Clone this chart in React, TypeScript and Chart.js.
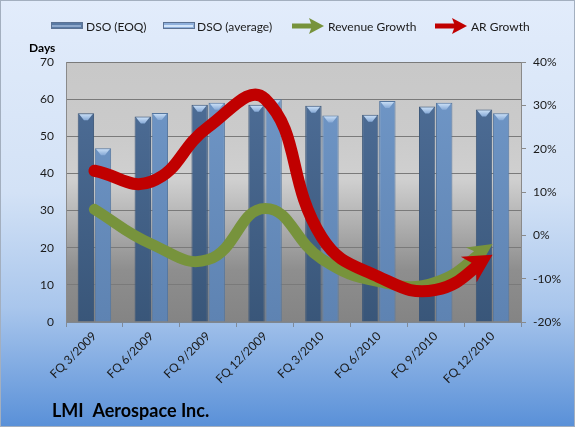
import { useEffect, useRef } from 'react';
import { Chart, registerables } from 'chart.js';

Chart.register(...registerables);

const categories = ['FQ 3/2009', 'FQ 6/2009', 'FQ 9/2009', 'FQ 12/2009', 'FQ 3/2010', 'FQ 6/2010', 'FQ 9/2010', 'FQ 12/2010'];
const dsoEoq = [56.2, 55.3, 58.5, 58.5, 58.2, 55.8, 58.0, 57.2];
const dsoAvg = [46.8, 56.3, 59.0, 60.0, 55.6, 59.5, 59.0, 56.2];
const revenueGrowth = [6.0, -2.0, -5.6, 6.2, -5.5, -10.7, -10.8, -2.0];
const arGrowth = [14.9, 12.4, 25.0, 31.5, -0.5, -9.6, -12.6, -4.5];
const leftTicks = [0, 10, 20, 30, 40, 50, 60, 70];
const rightTicks = [-20, -10, 0, 10, 20, 30, 40];

const FONT = 'Lato, "Open Sans", sans-serif';
const GREEN = '#77933c';
const RED = '#c00000';

function arrowGeom(meta: any) {
  const pts = meta.data;
  const p = pts[pts.length - 1];
  let dx = p.x - (p.cp1x ?? pts[pts.length - 2].x);
  let dy = p.y - (p.cp1y ?? pts[pts.length - 2].y);
  const len = Math.hypot(dx, dy) || 1;
  dx /= len;
  dy /= len;
  return { x: p.x, y: p.y, dx, dy };
}

function barGradient(top: string, bottom: string) {
  return (c: any) => {
    const ca = c.chart.chartArea;
    if (!ca) return top;
    const g = c.chart.ctx.createLinearGradient(0, ca.top, 0, ca.bottom);
    g.addColorStop(0, top);
    g.addColorStop(1, bottom);
    return g;
  };
}

const decorPlugin = {
  id: 'decor',
  beforeDraw(chart: any) {
    const { ctx, chartArea: ca, width, height } = chart;
    ctx.save();
    const g = ctx.createLinearGradient(0, 0, 0, height);
    g.addColorStop(0, '#e2ecfb');
    g.addColorStop(0.45, '#d3e2f6');
    g.addColorStop(0.72, '#a9c6ec');
    g.addColorStop(1, '#5990d8');
    ctx.fillStyle = g;
    ctx.fillRect(0, 0, width, height);
    const pg = ctx.createLinearGradient(0, ca.top, 0, ca.bottom);
    pg.addColorStop(0, '#c8c8c8');
    pg.addColorStop(0.3, '#cbcbcb');
    pg.addColorStop(0.45, '#d0d0d0');
    pg.addColorStop(0.62, '#b0b0b0');
    pg.addColorStop(0.8, '#8e8e8e');
    pg.addColorStop(1, '#848484');
    ctx.fillStyle = pg;
    ctx.fillRect(ca.left, ca.top, ca.right - ca.left, ca.bottom - ca.top);
    ctx.strokeStyle = '#a3afbf';
    ctx.lineWidth = 1;
    ctx.strokeRect(0.5, 0.5, width - 1, height - 1);
    ctx.restore();
  },
  beforeDatasetDraw(chart: any, args: any) {
    const meta = args.meta;
    if (meta.type !== 'line') return;
    const a = arrowGeom(meta);
    const back = 16;
    const bx = a.x - a.dx * back;
    const by = a.y - a.dy * back;
    const px = -a.dy, py = a.dx;
    const ctx = chart.ctx;
    ctx.save();
    ctx.beginPath();
    ctx.rect(0, 0, chart.width, chart.height);
    ctx.moveTo(bx + px * 30, by + py * 30);
    ctx.lineTo(bx + px * 30 + a.dx * 60, by + py * 30 + a.dy * 60);
    ctx.lineTo(bx - px * 30 + a.dx * 60, by - py * 30 + a.dy * 60);
    ctx.lineTo(bx - px * 30, by - py * 30);
    ctx.closePath();
    ctx.clip('evenodd');
  },
  afterDatasetDraw(chart: any, args: any) {
    const meta = args.meta;
    const ctx = chart.ctx;
    if (meta.type === 'line') {
      ctx.restore();
      const a = arrowGeom(meta);
      const ds = chart.data.datasets[args.index];
      const headLen = ds.label === 'AR Growth' ? 28 : 24;
      const headW = ds.label === 'AR Growth' ? 15 : 12;
      const bx = a.x - a.dx * headLen;
      const by = a.y - a.dy * headLen;
      const px = -a.dy, py = a.dx;
      ctx.save();
      ctx.fillStyle = ds.borderColor;
      ctx.beginPath();
      ctx.moveTo(a.x, a.y);
      ctx.lineTo(bx + px * headW, by + py * headW);
      ctx.lineTo(a.x - a.dx * headLen * 0.7, a.y - a.dy * headLen * 0.7);
      ctx.lineTo(bx - px * headW, by - py * headW);
      ctx.closePath();
      ctx.fill();
      ctx.restore();
    } else if (meta.type === 'bar') {
      ctx.save();
      for (const el of meta.data) {
        const w = el.width;
        const x0 = el.x - w / 2 + 1.5;
        const x1 = el.x + w / 2 - 1.5;
        const y = el.y + 1;
        const cg = ctx.createLinearGradient(0, y, 0, y + 6);
        cg.addColorStop(0, '#c7ddf5');
        cg.addColorStop(1, '#86a9d6');
        ctx.fillStyle = cg;
        ctx.beginPath();
        ctx.moveTo(x0, y);
        ctx.lineTo(x1, y);
        ctx.lineTo(el.x + w * 0.12, y + 6);
        ctx.lineTo(el.x - w * 0.12, y + 6);
        ctx.closePath();
        ctx.fill();
      }
      ctx.restore();
    }
  },
  afterDraw(chart: any) {
    const ctx = chart.ctx;
    ctx.save();
    const ly = 26;
    const swatch = (x: number, color: string, hi: string) => {
      ctx.fillStyle = color;
      ctx.fillRect(x, ly - 3, 31, 6);
      ctx.fillStyle = hi;
      ctx.fillRect(x + 1, ly - 1, 29, 2);
      ctx.strokeStyle = '#5d7394';
      ctx.lineWidth = 1;
      ctx.strokeRect(x + 0.5, ly - 3.5, 31, 6);
    };
    const arrow = (x: number, color: string) => {
      ctx.fillStyle = color;
      ctx.fillRect(x, ly - 2.5, 20, 5);
      ctx.beginPath();
      ctx.moveTo(x + 32, ly);
      ctx.lineTo(x + 17, ly - 8);
      ctx.lineTo(x + 20, ly);
      ctx.lineTo(x + 17, ly + 8);
      ctx.closePath();
      ctx.fill();
    };
    ctx.font = `12px ${FONT}`;
    ctx.textBaseline = 'middle';
    ctx.textAlign = 'left';
    swatch(51, '#5a7aa4', '#8fa9cc');
    ctx.fillStyle = '#1a1a1a';
    ctx.fillText('DSO (EOQ)', 86, ly + 1);
    swatch(163, '#8fb0dc', '#d4e6fa');
    ctx.fillStyle = '#1a1a1a';
    ctx.fillText('DSO (average)', 197, ly + 1);
    arrow(292, GREEN);
    ctx.fillStyle = '#1a1a1a';
    ctx.fillText('Revenue Growth', 328, ly + 1);
    arrow(435, RED);
    ctx.fillStyle = '#1a1a1a';
    ctx.fillText('AR Growth', 471, ly + 1);
    ctx.font = `bold 12px ${FONT}`;
    ctx.fillStyle = '#000';
    ctx.fillText('Days', 29, 48);
    ctx.font = `bold 18px ${FONT}`;
    ctx.fillText('LMI  Aerospace Inc.', 52, 411);
    ctx.restore();
  },
};

export default function App() {
  const ref = useRef<HTMLCanvasElement>(null);
  useEffect(() => {
    document.body.style.margin = '0';
    const chart = new Chart(ref.current as HTMLCanvasElement, {
      type: 'bar',
      data: {
        labels: categories,
        datasets: [
          {
            type: 'line',
            label: 'AR Growth',
            data: arGrowth,
            yAxisID: 'y1',
            borderColor: RED,
            backgroundColor: RED,
            borderWidth: 12,
            tension: 0.45,
            pointRadius: 0,
            fill: false,
            order: 0,
            borderCapStyle: 'round',
            borderJoinStyle: 'round',
          } as any,
          {
            type: 'line',
            label: 'Revenue Growth',
            data: revenueGrowth,
            yAxisID: 'y1',
            borderColor: GREEN,
            backgroundColor: GREEN,
            borderWidth: 11,
            tension: 0.45,
            pointRadius: 0,
            fill: false,
            order: 1,
            borderCapStyle: 'round',
            borderJoinStyle: 'round',
          } as any,
          {
            type: 'bar',
            label: 'DSO (EOQ)',
            data: dsoEoq,
            yAxisID: 'y',
            backgroundColor: barGradient('#50709a', '#395679'),
            borderColor: '#3b5678',
            borderWidth: 1,
            categoryPercentage: 0.6,
            barPercentage: 0.96,
            order: 2,
          },
          {
            type: 'bar',
            label: 'DSO (average)',
            data: dsoAvg,
            yAxisID: 'y',
            backgroundColor: barGradient('#7198c8', '#5e83b2'),
            borderColor: '#56779f',
            borderWidth: 1,
            categoryPercentage: 0.6,
            barPercentage: 0.96,
            order: 3,
          },
        ],
      },
      options: {
        responsive: false,
        animation: false,
        devicePixelRatio: 1,
        layout: { padding: { top: 62, left: 0, right: 0, bottom: 0 } },
        plugins: {
          legend: { display: false },
          tooltip: { enabled: false },
          title: { display: false },
        },
        scales: {
          x: {
            offset: true,
            grid: {
              offset: true,
              drawOnChartArea: false,
              drawTicks: true,
              tickLength: 5,
              color: '#7f8a99',
            },
            border: { display: true, color: '#7f8790' },
            ticks: {
              font: { family: FONT, size: 12 },
              color: '#1a1a1a',
              maxRotation: 45,
              minRotation: 45,
              padding: 2,
              autoSkip: false,
            },
            afterFit: (s: any) => {
              s.height = 105;
            },
          },
          y: {
            position: 'left',
            min: 0,
            max: 70,
            afterBuildTicks: (s: any) => {
              s.ticks = leftTicks.map((v) => ({ value: v }));
            },
            grid: { color: '#7a7a7a', drawTicks: false, lineWidth: 1 },
            border: { display: true, color: '#8a8a8a' },
            ticks: {
              font: { family: FONT, size: 12 },
              color: '#1a1a1a',
              padding: 12,
            },
            afterFit: (s: any) => {
              s.width = 66;
            },
          },
          y1: {
            position: 'right',
            min: -20,
            max: 40,
            afterBuildTicks: (s: any) => {
              s.ticks = rightTicks.map((v) => ({ value: v }));
            },
            grid: { drawOnChartArea: false, drawTicks: true, tickLength: 5, color: '#8a8a8a' },
            border: { display: true, color: '#8a8a8a' },
            ticks: {
              font: { family: FONT, size: 12 },
              color: '#1a1a1a',
              padding: 7,
              callback: (v: any) => `${v}%`,
            },
            afterFit: (s: any) => {
              s.width = 54;
            },
          },
        },
      },
      plugins: [decorPlugin],
    });
    return () => chart.destroy();
  }, []);
  return (
    <div style={{ width: 575, height: 427 }}>
      <canvas ref={ref} width={575} height={427} style={{ display: 'block' }} />
    </div>
  );
}
